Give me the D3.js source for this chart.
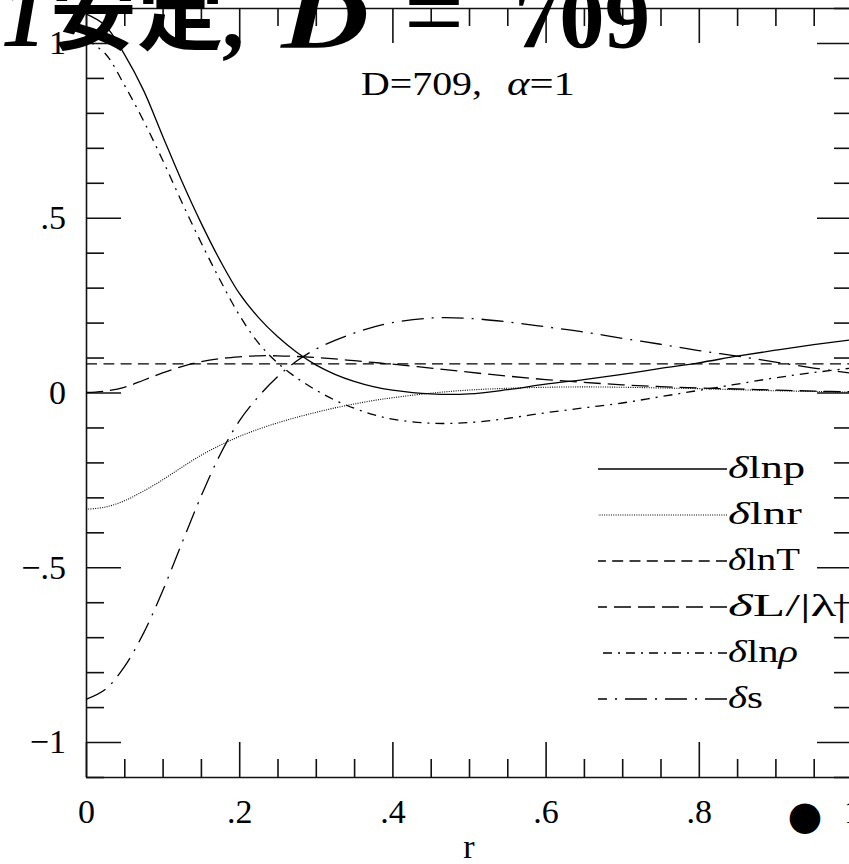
<!DOCTYPE html>
<html><head><meta charset="utf-8">
<script src="https://cdn.jsdelivr.net/npm/d3@7"></script>
<style>
html,body{margin:0;padding:0;background:#fff;overflow:hidden}
svg{display:block}
text{font-family:"Liberation Serif","DejaVu Serif",serif;fill:#000}
</style></head><body>
<svg id="c" width="849" height="864"></svg>
<script>
// ---------- data ----------
const rValues = [0, .025, .05, .075, .1, .125, .15, .175, .2, .225, .25, .275, .3, .325, .35, .375, .4,
                 .45, .5, .55, .6, .65, .7, .75, .8, .85, .9, .95, 1.0];
const dlnp   = [1.083, 1.05, 0.968, 0.865, 0.734, 0.605, 0.486, 0.378, 0.284, 0.215, 0.16, 0.115, 0.079, 0.052, 0.032, 0.017, 0.007,
                -0.004, -0.004, 0.008, 0.024, 0.037, 0.052, 0.069, 0.085, 0.104, 0.121, 0.137, 0.151];
const dlnr   = [-0.334, -0.328, -0.31, -0.282, -0.25, -0.214, -0.18, -0.151, -0.126, -0.105, -0.087, -0.071, -0.057, -0.044, -0.033, -0.023, -0.015,
                -0.002, 0.007, 0.012, 0.015, 0.016, 0.015, 0.013, 0.011, 0.008, 0.005, 0.003, 0.001];
const dlnT   = [0.082, 0.082, 0.082, 0.082, 0.082, 0.082, 0.082, 0.082, 0.082, 0.082, 0.082, 0.082, 0.082, 0.082, 0.082, 0.082, 0.082,
                0.082, 0.082, 0.082, 0.082, 0.082, 0.082, 0.082, 0.082, 0.082, 0.082, 0.082, 0.082];
const dL     = [0, 0.004, 0.015, 0.035, 0.056, 0.074, 0.088, 0.097, 0.102, 0.105, 0.105, 0.103, 0.1, 0.096, 0.091, 0.086, 0.081,
                0.07, 0.058, 0.047, 0.037, 0.029, 0.022, 0.017, 0.013, 0.01, 0.007, 0.004, 0.002];
const dlnrho = [1.01, 0.97, 0.88, 0.778, 0.665, 0.545, 0.43, 0.322, 0.222, 0.142, 0.085, 0.042, 0.007, -0.022, -0.045, -0.063, -0.076,
                -0.088, -0.086, -0.074, -0.058, -0.044, -0.03, -0.012, 0.006, 0.024, 0.042, 0.057, 0.07];
const ds     = [-0.878, -0.85, -0.785, -0.689, -0.568, -0.432, -0.298, -0.178, -0.082, -0.012, 0.045, 0.09, 0.124, 0.149, 0.17, 0.187, 0.2,
                0.213, 0.212, 0.202, 0.188, 0.173, 0.155, 0.138, 0.12, 0.104, 0.087, 0.07, 0.055];

const seriesNames = ["δlnp", "δlnr", "δlnT", "δL/|λ|", "δlnρ", "δs"];
const xTickValues = [0, .2, .4, .6, .8, 1];
const xTickLabels = ["0", ".2", ".4", ".6", ".8", "1"];
const yTickValues = [-1, -.5, 0, .5, 1];
const yTickLabels = ["\u22121", "\u2212.5", "0", ".5", "1"];
const xLabel = "r";
const subtitleLeft = "D=709,";
const subtitleRight = "=1";

// ---------- styles ----------
const seriesData = [dlnp, dlnr, dlnT, dL, dlnrho, ds];
const styles = [
  {dash: null,          w: 1.3},
  {dash: "1,1.3",       w: 1.1},
  {dash: "11,6.3",      w: 1.3},
  {dash: "17,7",        w: 1.3},
  {dash: "9,6,2,6",     w: 1.3},
  {dash: "22,8,2,8",    w: 1.3}
];
const legendWidths = [77, 74, 72, 119, 70, 35];

const svg = d3.select("#c");
const x = d3.scaleLinear().domain([0, 1]).range([86, 852]);
const y = d3.scaleLinear().domain([-1.1, 1.1]).range([777, 8]);

const majorLen = 35, minorLen = 18;
const xMinor = d3.range(0, 21).map(i => i * 0.05).filter(v => Math.abs(v / 0.2 - Math.round(v / 0.2)) > 1e-6);
const yMinor = d3.range(-11, 12).map(i => i * 0.1).filter(v => Math.abs(v / 0.5 - Math.round(v / 0.5)) > 1e-6);

function styleAxis(g) {
  g.selectAll("path.domain").attr("stroke", "#111").attr("stroke-width", 1.6);
  g.selectAll(".tick line").attr("stroke", "#111").attr("stroke-width", 1.6);
  g.attr("font-family", null).attr("font-size", null);
}

// bottom
const gB = svg.append("g").attr("transform", "translate(0,777)");
gB.call(d3.axisBottom(x).tickValues(xTickValues).tickSizeInner(-majorLen).tickSizeOuter(0)
  .tickPadding(22).tickFormat((d, i) => xTickLabels[i])).call(styleAxis);
gB.selectAll(".tick text").attr("font-size", 34).attr("dy", "0.71em");
svg.append("g").attr("transform", "translate(0,777)")
  .call(d3.axisBottom(x).tickValues(xMinor).tickSizeInner(-minorLen).tickSizeOuter(0).tickFormat(""))
  .call(styleAxis).select("path.domain").remove();

// top
svg.append("g").attr("transform", "translate(0,8)")
  .call(d3.axisTop(x).tickValues(xTickValues).tickSizeInner(-majorLen).tickSizeOuter(0).tickFormat(""))
  .call(styleAxis);
svg.append("g").attr("transform", "translate(0,8)")
  .call(d3.axisTop(x).tickValues(xMinor).tickSizeInner(-minorLen).tickSizeOuter(0).tickFormat(""))
  .call(styleAxis).select("path.domain").remove();

// left
const gL = svg.append("g").attr("transform", "translate(86,0)");
gL.call(d3.axisLeft(y).tickValues(yTickValues).tickSizeInner(-majorLen).tickSizeOuter(0)
  .tickPadding(20).tickFormat((d, i) => yTickLabels[i])).call(styleAxis);
gL.selectAll(".tick text").attr("font-size", 34).attr("dy", "0.32em");
svg.append("g").attr("transform", "translate(86,0)")
  .call(d3.axisLeft(y).tickValues(yMinor).tickSizeInner(-minorLen).tickSizeOuter(0).tickFormat(""))
  .call(styleAxis).select("path.domain").remove();

// right
svg.append("g").attr("transform", "translate(852,0)")
  .call(d3.axisRight(y).tickValues(yTickValues).tickSizeInner(-majorLen).tickSizeOuter(0).tickFormat(""))
  .call(styleAxis);
svg.append("g").attr("transform", "translate(852,0)")
  .call(d3.axisRight(y).tickValues(yMinor).tickSizeInner(-minorLen).tickSizeOuter(0).tickFormat(""))
  .call(styleAxis).select("path.domain").remove();

// curves
const line = d3.line().x((d, i) => x(rValues[i])).y(d => y(d)).curve(d3.curveCatmullRom.alpha(0.5));
seriesData.forEach((s, k) => {
  svg.append("path").datum(s).attr("d", line)
    .attr("fill", "none").attr("stroke", "#000")
    .attr("stroke-width", styles[k].w)
    .attr("stroke-dasharray", styles[k].dash);
});

// legend
const legY = d3.scaleLinear().domain([0, 5]).range([469, 699]);
seriesNames.forEach((name, k) => {
  const yy = legY(k);
  svg.append("path").attr("d", `M727,${yy}L598,${yy}`)
    .attr("fill", "none").attr("stroke", "#000")
    .attr("stroke-width", styles[k].w)
    .attr("stroke-dasharray", styles[k].dash);
  const t = svg.append("text").attr("x", 728).attr("y", yy + 9).attr("font-size", 31)
    .attr("textLength", legendWidths[k]).attr("lengthAdjust", "spacingAndGlyphs");
  t.append("tspan").attr("font-style", "italic").text(name[0]);
  const rest = name.slice(1);
  if (rest === "lnρ") {
    t.append("tspan").text("ln");
    t.append("tspan").attr("font-style", "italic").text("ρ");
  } else {
    t.append("tspan").text(rest);
  }
});

// subtitle
svg.append("text").attr("x", 361).attr("y", 95).attr("font-size", 33)
  .attr("textLength", 121).attr("lengthAdjust", "spacingAndGlyphs").text(subtitleLeft);
const st = svg.append("text").attr("x", 507).attr("y", 95).attr("font-size", 33)
  .attr("textLength", 68).attr("lengthAdjust", "spacingAndGlyphs");
st.append("tspan").attr("font-style", "italic").text("α");
st.append("tspan").text(subtitleRight);

// x label
svg.append("text").attr("x", 469).attr("y", 858).attr("font-size", 34)
  .attr("text-anchor", "middle").text(xLabel);

// bullet
svg.append("text").attr("x", 805).attr("y", 829).attr("font-size", 40)
  .attr("text-anchor", "middle").style("font-family", "DejaVu Sans").text("●");

// big title (overlapping, partially clipped)
const tg = svg.append("g");
tg.append("text").attr("x", 46).attr("y", 45).attr("font-size", 88).attr("text-anchor", "end")
  .attr("font-weight", "bold").attr("font-style", "italic").text("1");
tg.append("text").attr("x", 50).attr("y", 43).attr("font-size", 80)
  .attr("textLength", 174).attr("lengthAdjust", "spacingAndGlyphs")
  .style("font-family", "'Noto Sans CJK JP','Noto Sans CJK SC',sans-serif").attr("font-weight", "bold").text("安定");
tg.append("text").attr("x", 222).attr("y", 47).attr("font-size", 88).attr("font-weight", "bold").text(",");
tg.append("text").attr("x", 281).attr("y", 47).attr("font-size", 88).attr("font-weight", "bold")
  .attr("font-style", "italic").attr("textLength", 88).attr("lengthAdjust", "spacingAndGlyphs").text("D");
tg.append("text").attr("x", 404).attr("y", 50).attr("font-size", 110)
  .attr("textLength", 60).attr("lengthAdjust", "spacingAndGlyphs").text("=");
tg.append("text").attr("x", 514).attr("y", 47).attr("font-size", 88).attr("font-weight", "bold")
  .attr("textLength", 136).attr("lengthAdjust", "spacingAndGlyphs").text("709");
</script>
</body></html>
